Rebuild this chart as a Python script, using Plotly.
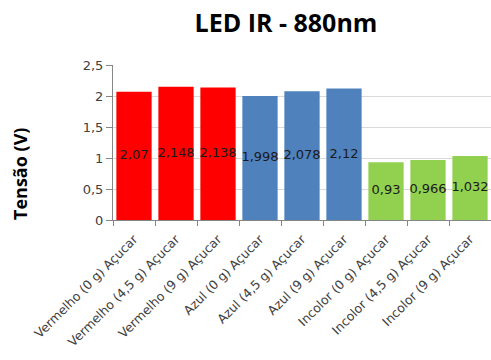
import plotly.graph_objects as go

categories = [
    "Vermelho (0 g) Açucar", "Vermelho (4,5 g) Açucar", "Vermelho (9 g) Açucar",
    "Azul (0 g) Açucar", "Azul (4,5 g) Açucar", "Azul (9 g) Açucar",
    "Incolor (0 g) Açucar", "Incolor (4,5 g) Açucar", "Incolor (9 g) Açucar",
]
values = [2.07, 2.148, 2.138, 1.998, 2.078, 2.12, 0.93, 0.966, 1.032]
bar_colors = ["#FF0000"] * 3 + ["#4F81BD"] * 3 + ["#92D050"] * 3
tick_vals = [0, 0.5, 1, 1.5, 2, 2.5]
tick_text = ["0", "0,5", "1", "1,5", "2", "2,5"]

labels = [f"{v:g}".replace(".", ",") for v in values]
TITLE_FONT = "Open Sans, Noto Sans, sans-serif"
BODY_FONT = "DejaVu Sans, Verdana, sans-serif"

fig = go.Figure()
fig.add_trace(go.Bar(
    x=categories, y=values, marker=dict(color=bar_colors, line=dict(width=0)),
    hoverinfo="skip",
))
# value labels centred inside each bar
fig.add_trace(go.Scatter(
    x=categories, y=[v / 2 for v in values], mode="text", text=labels,
    textposition="middle center",
    textfont=dict(family=BODY_FONT, size=13, color="#1a1a1a"),
    hoverinfo="skip", cliponaxis=False,
))

fig.update_layout(
    width=491, height=360,
    margin=dict(l=113, r=0, t=65, b=140),
    paper_bgcolor="white", plot_bgcolor="white",
    showlegend=False, bargap=0.16,
    title=dict(text="<b>LED IR - 880nm</b>", x=286 / 491, xanchor="center",
               y=1 - 23 / 360, yanchor="middle",
               font=dict(family=TITLE_FONT, size=25, color="black")),
    font=dict(family=BODY_FONT),
    annotations=[dict(
        text="<b>Tensão (V)</b>", textangle=-90, showarrow=False,
        xref="paper", yref="paper", x=(20 - 113) / 378, y=(220 - 174) / 155,
        xanchor="center", yanchor="middle",
        font=dict(family=TITLE_FONT, size=18, color="black"),
    )],
)
fig.update_xaxes(
    tickangle=-45, tickfont=dict(family=BODY_FONT, size=12.5, color="#404040"),
    ticklabelstandoff=6,
    showline=True, linecolor="#868686", linewidth=1,
    ticks="outside", ticklen=5, tickcolor="#868686", tickson="boundaries",
    showgrid=False,
)
fig.update_yaxes(
    range=[0, 2.5], tickvals=tick_vals, ticktext=tick_text,
    tickfont=dict(family=BODY_FONT, size=13, color="#404040"),
    showline=True, linecolor="#868686", linewidth=1,
    ticks="outside", ticklen=6, tickcolor="#868686",
    showgrid=True, gridcolor="#D9D9D9", gridwidth=1,
    zeroline=False,
)

fig.write_html("out.html")
